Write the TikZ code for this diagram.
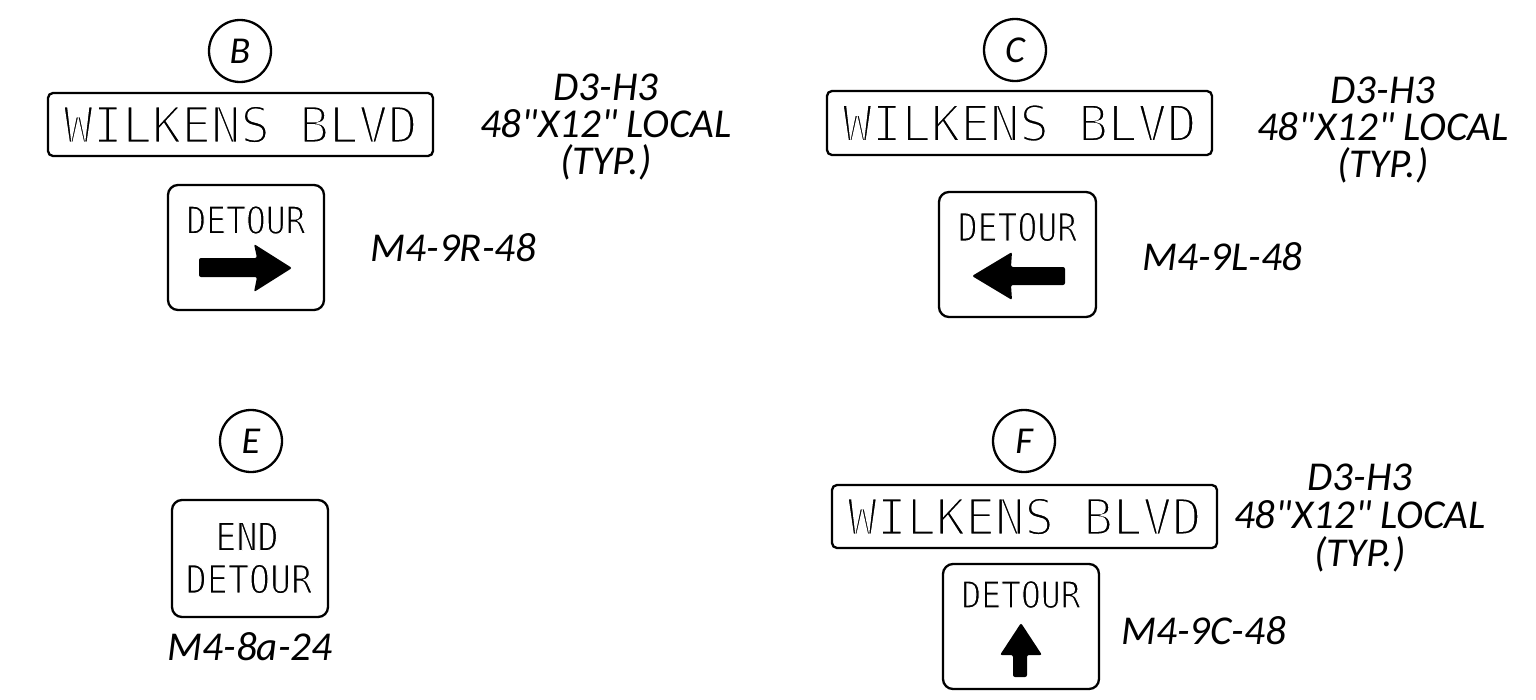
\documentclass[tikz,border=0pt]{standalone}
\usepackage{fontspec}
\usepackage{graphicx}
\newfontfamily\lblfont{Carlito}
\newfontfamily\signfont{DejaVu Sans Mono}
% thin CAD-like strokes: fill black, shave the glyph edges with a white outline
\newcommand\thinink[2]{\special{pdf:literal direct 2 Tr 1 G #1 w}#2\special{pdf:literal direct 0 Tr 0 G}}
% size, vertical stretch, shave width, text
\newcommand\signtext[4]{{\signfont\fontsize{#1}{#1}\selectfont\scalebox{1}[#2]{\thinink{#3}{#4}}}}
\begin{document}
\begin{tikzpicture}[x=1pt,y=-1pt,
  ln/.style={line width=2.3pt},
  tag/.style={circle,draw,ln,minimum size=62pt,inner sep=0pt,font=\lblfont\itshape\fontsize{38}{38}\selectfont},
  street/.style={draw,ln,rounded corners=5pt,inner sep=0pt},
  plate/.style={draw,ln,rounded corners=10pt,inner sep=0pt},
  stxt/.style={inner sep=0pt,outer sep=0pt},
  lbl/.style={inner sep=0pt,outer sep=0pt,font=\lblfont\itshape\fontsize{41}{41}\selectfont},
  arrowfill/.style={fill=black,rounded corners=2pt}]
\useasboundingbox (0,0) rectangle (1536,699);

% ---- B ----
\node[tag] (cB) at (240,51) {B};
\node[street,minimum width=385pt,minimum height=63pt] (sB) at (240.5,124.5) {\signtext{49}{1.02}{2.2}{WILKENS BLVD}};
\node[plate,minimum width=156pt,minimum height=125pt] (pB) at (246,247.5) {};
\node[stxt] (tB) at (246,220) {\signtext{33}{1.15}{1.0}{DETOUR}};
\fill[arrowfill] (199,258) -- (257,258) -- (254,244) -- (292,268) -- (254,292) -- (257,277) -- (199,277) -- cycle;
\node[lbl] (mB) at (453.5,247.5) {M4-9R-48};
\node[lbl,anchor=base] (dB1) at (606,100) {D3-H3};
\node[lbl,anchor=base] (dB2) at (606,137) {48"X12" LOCAL};
\node[lbl,anchor=base] (dB3) at (606,174) {(TYP.)};

% ---- C ----
\node[tag] (cC) at (1015,50) {C};
\node[street,minimum width=385pt,minimum height=64pt] (sC) at (1019.5,123) {\signtext{49}{1.02}{2.2}{WILKENS BLVD}};
\node[plate,minimum width=157pt,minimum height=125pt] (pC) at (1017.5,254.5) {};
\node[stxt] (tC) at (1017.5,227) {\signtext{33}{1.18}{1.0}{DETOUR}};
\fill[arrowfill] (1065,267) -- (1011,267) -- (1012,252) -- (972,276) -- (1012,300) -- (1011,285) -- (1065,285) -- cycle;
\node[lbl] (mC) at (1222.5,256.5) {M4-9L-48};
\node[lbl,anchor=base] (dC1) at (1383,103) {D3-H3};
\node[lbl,anchor=base] (dC2) at (1383,140) {48"X12" LOCAL};
\node[lbl,anchor=base] (dC3) at (1383,177) {(TYP.)};

% ---- E ----
\node[tag] (cE) at (251,441) {E};
\node[plate,minimum width=156pt,minimum height=117pt] (pE) at (250,558.5) {};
\node[stxt] (tE1) at (247,536.5) {\signtext{35}{1.12}{1.1}{END}};
\node[stxt] (tE2) at (249,579) {\signtext{35}{1.12}{1.1}{DETOUR}};
\node[lbl] (mE) at (250,646.5) {M4-8a-24};

% ---- F ----
\node[tag] (cF) at (1024,441) {F};
\node[street,minimum width=385pt,minimum height=63pt] (sF) at (1024.5,516.5) {\signtext{49}{1.02}{2.2}{WILKENS BLVD}};
\node[plate,minimum width=156pt,minimum height=125pt] (pF) at (1021,626.5) {};
\node[stxt] (tF) at (1021,594.5) {\signtext{33}{1.12}{1.0}{DETOUR}};
\fill[arrowfill] (1013,677) -- (1013,655) -- (1000,655) -- (1021,623) -- (1042,655) -- (1027,655) -- (1027,677) -- cycle;
\node[lbl] (mF) at (1203.5,630.5) {M4-9C-48};
\node[lbl,anchor=base] (dF1) at (1360,490) {D3-H3};
\node[lbl,anchor=base] (dF2) at (1360,528) {48"X12" LOCAL};
\node[lbl,anchor=base] (dF3) at (1360,566) {(TYP.)};
\end{tikzpicture}
\end{document}
